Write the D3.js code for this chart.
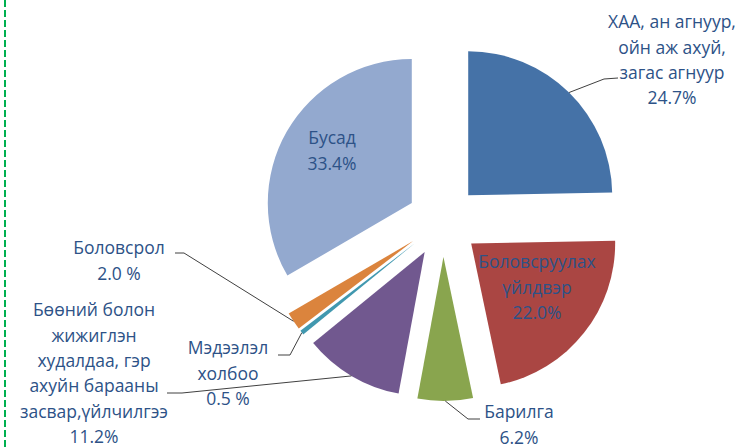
<!DOCTYPE html>
<html>
<head>
<meta charset="utf-8">
<script src="https://cdn.jsdelivr.net/npm/d3@7"></script>
<style>
  body { margin: 0; background: #fff; }
  svg { display: block; }
</style>
</head>
<body>
<svg id="chart"></svg>
<script>
// data
var categories = [
  ["ХАА, ан агнуур,", "ойн аж ахуй,", "загас агнуур"],
  ["Боловсруулах", "үйлдвэр"],
  ["Барилга"],
  ["Бөөний болон", "жижиглэн", "худалдаа, гэр", "ахуйн барааны", "засвар,үйлчилгээ"],
  ["Мэдээлэл", "холбоо"],
  ["Боловсрол"],
  ["Бусад"]
];
var values = [24.7, 22.0, 6.2, 11.2, 0.5, 2.0, 33.4];
var valueLabels = ["24.7%", "22.0%", "6.2%", "11.2%", "0.5 %", "2.0 %", "33.4%"];
var colors = ["#4572A7", "#AA4643", "#89A54E", "#71588F", "#4198AF", "#DB843D", "#93A9CF"];

// label placement (centre x, first line y) and leader start/elbow, null = inside
var labelPos = [
  {x: 672, y: 22, lead: [[618, 78], [604, 79]]},
  {x: 537, y: 262, lead: null},
  {x: 519, y: 412, lead: [[480, 419], [468, 419]]},
  {x: 94, y: 310, lead: [[167, 393], [182, 393]]},
  {x: 228, y: 348, lead: [[278, 355], [290, 355]]},
  {x: 119, y: 248, lead: [[175, 253], [184, 253]]},
  {x: 332, y: 138, lead: null}
];

var width = 748, height = 448;
var cx = 443, cy = 221, r = 144, explode = 36;
var lineH = 25.4;

var svg = d3.select('#chart')
  .attr('width', width)
  .attr('height', height);

// green dashed border on the left
svg.append('line')
  .attr('x1', 5).attr('x2', 5)
  .attr('y1', 0).attr('y2', height)
  .attr('stroke', '#00B050')
  .attr('stroke-width', 2)
  .attr('stroke-dasharray', '7,3');

var pie = d3.pie().sort(null).value(d => d);
var arcs = pie(values);
var arc = d3.arc().innerRadius(0).outerRadius(r);

function offset(d) {
  var a = (d.startAngle + d.endAngle) / 2;
  return [cx + explode * Math.sin(a), cy - explode * Math.cos(a)];
}

var g = svg.append('g');
g.selectAll('path')
  .data(arcs)
  .enter().append('path')
    .attr('d', arc)
    .attr('fill', (d, i) => colors[i])
    .attr('transform', d => 'translate(' + offset(d) + ')');

// leader lines
svg.append('g')
  .selectAll('polyline')
  .data(arcs.filter((d, i) => labelPos[i].lead))
  .enter().append('polyline')
    .attr('fill', 'none')
    .attr('stroke', '#404040')
    .attr('stroke-width', 1)
    .attr('points', d => {
      var o = offset(d);
      var a = (d.startAngle + d.endAngle) / 2;
      var end = [o[0] + r * Math.sin(a), o[1] - r * Math.cos(a)];
      var lp = labelPos[d.index].lead;
      return [lp[0], lp[1], end].map(p => p.join(',')).join(' ');
    });

// labels
var labels = svg.append('g')
  .attr('font-family', '"Open Sans", "Noto Sans", sans-serif')
  .attr('font-size', 17.5)
  .attr('fill', '#2D5287')
  .attr('text-anchor', 'middle');

categories.forEach(function(lines, i) {
  var all = lines.concat([valueLabels[i]]);
  var t = labels.append('text');
  all.forEach(function(s, j) {
    t.append('tspan')
      .attr('x', labelPos[i].x)
      .attr('y', labelPos[i].y + j * lineH)
      .attr('dy', '0.35em')
      .text(s);
  });
});
</script>
</body>
</html>
